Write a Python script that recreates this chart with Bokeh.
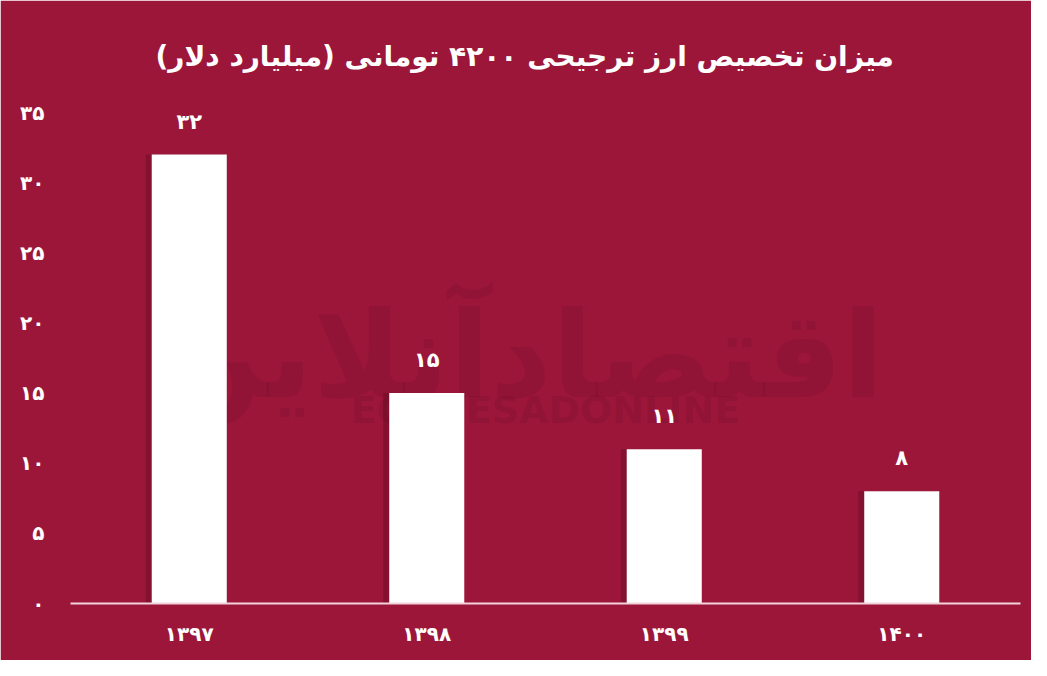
from bokeh.plotting import figure
from bokeh.models import ColumnDataSource, FactorRange, Range1d, FixedTicker
from bokeh.transform import dodge
from bokeh.core.properties import value
from bokeh.embed import file_html
from bokeh.resources import INLINE

# ---- data ----
years = ["۱۳۹۷", "۱۳۹۸", "۱۳۹۹", "۱۴۰۰"]
values = [32, 15, 11, 8]
value_labels = ["۳۲", "۱۵", "۱۱", "۸"]
y_ticks = [0, 5, 10, 15, 20, 25, 30, 35]
y_tick_labels = ["۰", "۵", "۱۰", "۱۵", "۲۰", "۲۵", "۳۰", "۳۵"]
title_text = "میزان تخصیص ارز ترجیحی ۴۲۰۰ تومانی (میلیارد دلار)"
watermark_fa = ["اقتصادآنلاین"]
watermark_en = ["EGHTESADONLINE"]

BG = "#9c163a"
FONT = "DejaVu Sans"

src = ColumnDataSource(dict(x=years, top=values, lab=value_labels))

p = figure(width=1031, height=660, x_range=FactorRange(factors=years),
           y_range=Range1d(0, 35), output_backend="svg", toolbar_location=None,
           min_border_left=70, min_border_right=11, min_border_top=112,
           min_border_bottom=57)
p.background_fill_color = BG
p.border_fill_color = BG
p.outline_line_color = BG
p.outline_line_width = 3
p.xgrid.grid_line_color = None
p.ygrid.grid_line_color = None

p.title.text = title_text
p.title.align = "left"
p.title.offset = 85
p.title.vertical_align = "top"
p.title.text_color = "white"
p.title.text_font = FONT
p.title.text_font_size = "28px"
p.title.text_font_style = "bold"
p.title.standoff = 76

# watermark
wm1 = p.text(x=[1.9], y=[17.7], text=watermark_fa, text_font=value(FONT),
             text_font_size="120px", text_font_style="bold", text_color="#6e0c27",
             text_alpha=0.22, text_align="center", text_baseline="middle")
wm1.level = "underlay"
wm2 = p.text(x=[2.0], y=[13.8], text=watermark_en, text_font=value(FONT),
             text_font_size="38px", text_font_style="bold", text_color="#6e0c27",
             text_alpha=0.22, text_align="center", text_baseline="middle")
wm2.level = "underlay"

# shadow
p.vbar(x=dodge("x", -0.025, range=p.x_range), top="top", width=0.316, bottom=0,
       source=src, fill_color="#4a0716", fill_alpha=0.3, line_color=None)
# bars
p.vbar(x="x", top="top", width=0.316, bottom=0, source=src,
       fill_color="white", line_color=None)
# value labels
p.text(x="x", y="top", text="lab", source=src, text_font=value(FONT),
       text_font_size="21px", text_font_style="bold", text_color="white",
       text_align="center", text_baseline="middle", y_offset=-33)

# axes
p.yaxis.ticker = FixedTicker(ticks=y_ticks)
p.yaxis.major_label_overrides = {t: l for t, l in zip(y_ticks, y_tick_labels)}
p.yaxis.axis_line_color = None
p.yaxis.major_tick_line_color = None
p.yaxis.minor_tick_line_color = None
p.yaxis.major_label_text_color = "white"
p.yaxis.major_label_text_font = FONT
p.yaxis.major_label_text_font_size = "20px"
p.yaxis.major_label_text_font_style = "bold"
p.yaxis.major_label_standoff = 20

p.xaxis.axis_line_color = "#f3d3db"
p.xaxis.axis_line_width = 2
p.xaxis.major_tick_line_color = None
p.xaxis.minor_tick_line_color = None
p.xaxis.major_label_text_color = "white"
p.xaxis.major_label_text_font = FONT
p.xaxis.major_label_text_font_size = "20px"
p.xaxis.major_label_text_font_style = "bold"
p.xaxis.major_label_standoff = 12

open("out.html", "w").write(file_html(p, INLINE))
